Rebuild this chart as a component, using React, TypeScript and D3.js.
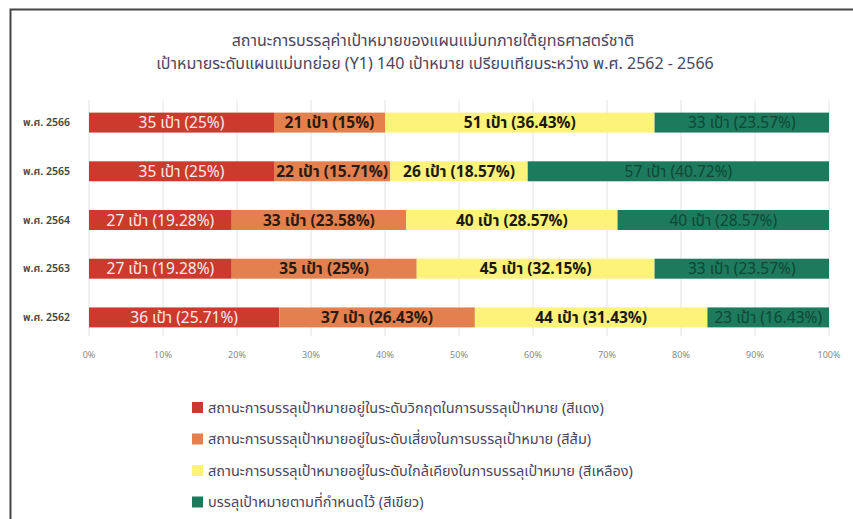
import React from "react";
import * as d3 from "d3";

const years = ["พ.ศ. 2566", "พ.ศ. 2565", "พ.ศ. 2564", "พ.ศ. 2563", "พ.ศ. 2562"];
const critical = [35, 35, 27, 27, 36];
const risk = [21, 22, 33, 35, 37];
const near = [51, 26, 40, 45, 44];
const met = [33, 57, 40, 33, 23];
const criticalPct = ["25%", "25%", "19.28%", "19.28%", "25.71%"];
const riskPct = ["15%", "15.71%", "23.58%", "25%", "26.43%"];
const nearPct = ["36.43%", "18.57%", "28.57%", "32.15%", "31.43%"];
const metPct = ["23.57%", "40.72%", "28.57%", "23.57%", "16.43%"];
const ticks = [0, 10, 20, 30, 40, 50, 60, 70, 80, 90, 100];
const seriesNames = [
  "สถานะการบรรลุเป้าหมายอยู่ในระดับวิกฤตในการบรรลุเป้าหมาย (สีแดง)",
  "สถานะการบรรลุเป้าหมายอยู่ในระดับเสี่ยงในการบรรลุเป้าหมาย (สีส้ม)",
  "สถานะการบรรลุเป้าหมายอยู่ในระดับใกล้เคียงในการบรรลุเป้าหมาย (สีเหลือง)",
  "บรรลุเป้าหมายตามที่กำหนดไว้ (สีเขียว)",
];
const title1 = "สถานะการบรรลุค่าเป้าหมายของแผนแม่บทภายใต้ยุทธศาสตร์ชาติ";
const title2 = "เป้าหมายระดับแผนแม่บทย่อย (Y1) 140 เป้าหมาย เปรียบเทียบระหว่าง พ.ศ. 2562 - 2566";

const colors = ["#cc3a2e", "#e4804e", "#fdf27a", "#1d7a5c"];
const textColors = ["#fbeaea", "#2a1a10", "#1a1a10", "#0f4736"];
const weights = [400, 700, 700, 400];

const FONT = "'Noto Sans Thai', 'Noto Sans', 'DejaVu Sans', sans-serif";

export default function App() {
  const W = 853, H = 519;
  const x = d3.scaleLinear().domain([0, 100]).range([89, 829]);
  const y = d3.scaleBand().domain(years).range([98, 342]).paddingInner(0.59).paddingOuter(0.3);
  const seriesVals = [critical, risk, near, met];
  const seriesPct = [criticalPct, riskPct, nearPct, metPct];
  const rows = years.map((yr, i) => {
    const vals = seriesVals.map((s) => s[i]);
    const total = d3.sum(vals);
    let acc = 0;
    return vals.map((v, k) => {
      const x0 = (acc / total) * 100;
      acc += v;
      const x1 = (acc / total) * 100;
      return { yr, k, v, x0, x1, label: `${v} เป้า (${seriesPct[k][i]})` };
    });
  });
  return (
    <svg width={W} height={H} style={{ position: "absolute", left: 0, top: 0, background: "#fff" }} fontFamily={FONT}>
      <rect x={0} y={0} width={W} height={H} fill="#fff" />
      <path d={`M10.5,${H} V9.5 H${W}`} fill="none" stroke="#444" strokeWidth={2} />
      <text x={433} y={46} textAnchor="middle" fontSize={16} fill="#4b4560">{title1}</text>
      <text x={435} y={69} textAnchor="middle" fontSize={16} fill="#4b4560">{title2}</text>
      {ticks.map((t) => (
        <g key={t}>
          <line x1={x(t)} x2={x(t)} y1={100} y2={336} stroke="#e4e4ea" strokeWidth={1} />
          <text x={x(t)} y={358} textAnchor="middle" fontSize={9} fill="#888">{t}%</text>
        </g>
      ))}
      {rows.map((segs, i) => (
        <g key={years[i]}>
          <text x={70} y={(y(years[i]) as number) + y.bandwidth() / 2 + 3.5} textAnchor="end" fontSize={10.5} fontWeight={600} fill="#444">{years[i]}</text>
          {segs.map((s) => (
            <rect key={s.k} x={x(s.x0)} y={y(s.yr)} width={x(s.x1) - x(s.x0)} height={y.bandwidth()} fill={colors[s.k]} />
          ))}
          {segs.map((s) => (
            <text key={"t" + s.k} x={(x(s.x0) + x(s.x1)) / 2} y={(y(s.yr) as number) + y.bandwidth() / 2 + 5.5}
              textAnchor="middle" fontSize={15.5} fontWeight={weights[s.k]} fill={textColors[s.k]}>{s.label}</text>
          ))}
        </g>
      ))}
      {seriesNames.map((n, k) => (
        <g key={n}>
          <rect x={192} y={402 + k * 31.5} width={11} height={11} fill={colors[k]} />
          <text x={208} y={412.5 + k * 31.5} fontSize={14.5} fill="#4b4560">{n}</text>
        </g>
      ))}
    </svg>
  );
}
